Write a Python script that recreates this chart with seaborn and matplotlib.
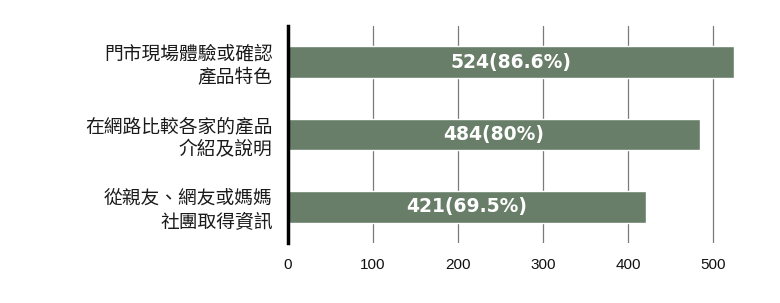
import matplotlib
matplotlib.use("Agg")
import matplotlib.pyplot as plt
import seaborn as sns
import pandas as pd

# Survey responses: ways of gathering product information
categories = [
    "門市現場體驗或確認\n產品特色",
    "在網路比較各家的產品\n介紹及說明",
    "從親友、網友或媽媽\n社團取得資訊",
]
counts = [524, 484, 421]
shares = ["86.6%", "80%", "69.5%"]
x_ticks = [0, 100, 200, 300, 400, 500]

df = pd.DataFrame({"category": categories, "count": counts})

sns.set_theme(style="white")
plt.rcParams["font.family"] = ["Noto Sans CJK TC", "DejaVu Sans"]

fig = plt.figure(figsize=(7.8, 3.03), dpi=100)
ax = fig.add_axes([0.369, 0.198, 0.611, 0.716])

bar_color = "#687e68"
sns.barplot(data=df, x="count", y="category", orient="h", color=bar_color,
            width=0.44, saturation=1, ax=ax, zorder=3)

ax.set_xlim(0, 560)
ax.set_xticks(x_ticks)
ax.set_xticklabels([str(t) for t in x_ticks], fontsize=11,
                   family=["Liberation Sans", "DejaVu Sans"], color="#111111")
ax.tick_params(axis="x", length=0, pad=11)
ax.tick_params(axis="y", length=0, pad=11)
for lbl in ax.get_yticklabels():
    lbl.set_fontsize(13.5)
    lbl.set_color("#1a1a1a")
    lbl.set_horizontalalignment("right")
    lbl.set_multialignment("right")
    lbl.set_linespacing(1.15)

ax.set_xlabel("")
ax.set_ylabel("")

# vertical gridlines
ax.xaxis.grid(True, color="#7a7a7a", linewidth=0.9)
ax.set_axisbelow(True)

for side in ["top", "right", "bottom"]:
    ax.spines[side].set_visible(False)
ax.spines["left"].set_color("black")
ax.spines["left"].set_linewidth(2.5)
ax.spines["left"].set_zorder(5)

# value labels centered inside each bar
for patch, n, pct in zip(ax.patches, counts, shares):
    y = patch.get_y() + patch.get_height() / 2
    ax.text(n / 2, y, f"{n}({pct})", ha="center", va="center",
            color="white", fontsize=13.5, fontweight="bold",
            family=["DejaVu Sans"], zorder=6)

fig.savefig("out.png", dpi=100, facecolor="white")
